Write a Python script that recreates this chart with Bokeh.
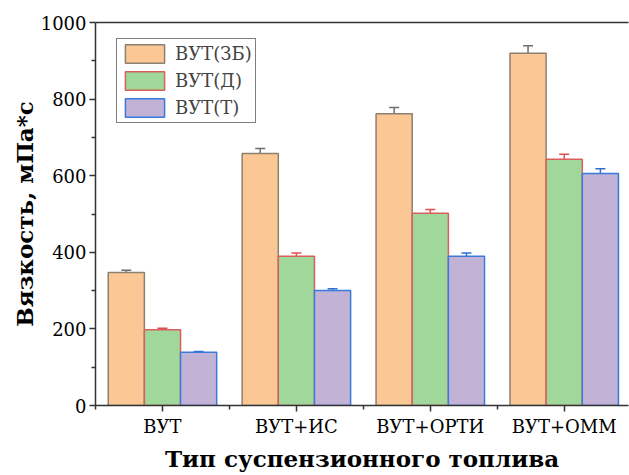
from bokeh.plotting import figure
from bokeh.models import (ColumnDataSource, FixedTicker, LinearAxis, Whisker, TeeHead,
                          Legend, LegendItem, Range1d)
from bokeh.transform import dodge
from bokeh.embed import file_html
from bokeh.resources import INLINE

categories = ["ВУТ", "ВУТ+ИС", "ВУТ+ОРТИ", "ВУТ+ОММ"]
series_names = ["ВУТ(ЗБ)", "ВУТ(Д)", "ВУТ(Т)"]
vals_zb = [347, 658, 762, 920]
err_zb = [6, 13, 16, 19]
vals_d = [198, 390, 502, 643]
err_d = [4, 8, 10, 13]
vals_t = [139, 300, 390, 606]
err_t = [2, 5, 8, 12]

fills = ["#FBC895", "#9FD89A", "#C1B2D6"]
borders = ["#8c8070", "#d9605a", "#3a7ad8"]
errcols = ["#6f6f6f", "#e0504f", "#2f6fd0"]

xs = list(range(len(categories)))
src = ColumnDataSource(dict(
    x=xs,
    zb=vals_zb, zb_lo=[v - e for v, e in zip(vals_zb, err_zb)], zb_hi=[v + e for v, e in zip(vals_zb, err_zb)],
    d=vals_d, d_lo=[v - e for v, e in zip(vals_d, err_d)], d_hi=[v + e for v, e in zip(vals_d, err_d)],
    t=vals_t, t_lo=[v - e for v, e in zip(vals_t, err_t)], t_hi=[v + e for v, e in zip(vals_t, err_t)],
))

FONT = "DejaVu Serif"
p = figure(width=629, height=475, output_backend="svg", toolbar_location=None,
           x_range=Range1d(-0.5, 3.48), y_range=Range1d(0, 1000),
           min_border_left=95, min_border_right=1, min_border_top=22, min_border_bottom=70)
p.outline_line_color = None
p.xgrid.visible = False
p.ygrid.visible = False
p.background_fill_color = "white"

bw = 0.27
offsets = [-bw, 0, bw]
keys = ["zb", "d", "t"]
renderers = []
for k, off, fc, bc in zip(keys, offsets, fills, borders):
    r = p.vbar(x=dodge("x", off), top=k, width=bw, bottom=0, source=src,
               fill_color=fc, line_color=bc, line_width=1.5)
    renderers.append(r)
for k, off, ec in zip(keys, offsets, errcols):
    w = Whisker(source=src, base=dodge("x", off), upper=k + "_hi", lower=k + "_lo",
                line_color=ec, line_width=1.5,
                upper_head=TeeHead(size=10, line_color=ec, line_width=1.5),
                lower_head=TeeHead(size=10, line_color=ec, line_width=1.5))
    p.add_layout(w)

# axes
xa = p.xaxis[0]
xa.ticker = FixedTicker(ticks=xs, minor_ticks=[-0.5, 0.5, 1.5, 2.5, 3.5])
xa.major_label_overrides = {i: c for i, c in enumerate(categories)}
ya = p.yaxis[0]
ya.ticker = FixedTicker(ticks=[0, 200, 400, 600, 800, 1000],
                        minor_ticks=[100, 300, 500, 700, 900])
for ax in (xa, ya):
    ax.axis_line_color = "#333333"
    ax.axis_line_width = 1.5
    ax.major_tick_line_color = "#333333"
    ax.major_tick_line_width = 1.5
    ax.minor_tick_line_color = "#333333"
    ax.minor_tick_line_width = 1.5
    ax.major_tick_in = 0
    ax.major_tick_out = 6
    ax.minor_tick_in = 0
    ax.minor_tick_out = 4
    ax.major_label_text_font = FONT
    ax.major_label_text_font_size = "18px"
    ax.major_label_text_color = "black"
    ax.axis_label_text_font = FONT
    ax.axis_label_text_font_style = "bold"
    ax.axis_label_text_font_size = "23px"
    ax.axis_label_text_color = "black"
xa.axis_label = "Тип суспензионного топлива"
ya.axis_label = "Вязкость, мПа*с"
xa.major_label_standoff = 4
xa.axis_label_standoff = 5
ya.major_label_standoff = 3
ya.axis_label_standoff = 0

top = LinearAxis(ticker=FixedTicker(ticks=[]), major_tick_line_color=None,
                 minor_tick_line_color=None, axis_line_color="#333333",
                 axis_line_width=1.5)
p.add_layout(top, "above")

legend = Legend(items=[LegendItem(label=n, renderers=[r]) for n, r in zip(series_names, renderers)],
                location=(21, 282), border_line_color="black", border_line_width=1,
                label_text_font=FONT, label_text_font_size="18px",
                glyph_width=49, glyph_height=23, spacing=4, padding=3, margin=0,
                label_standoff=6, background_fill_alpha=1)
p.add_layout(legend, "center")

open("out.html", "w").write(file_html(p, INLINE))
